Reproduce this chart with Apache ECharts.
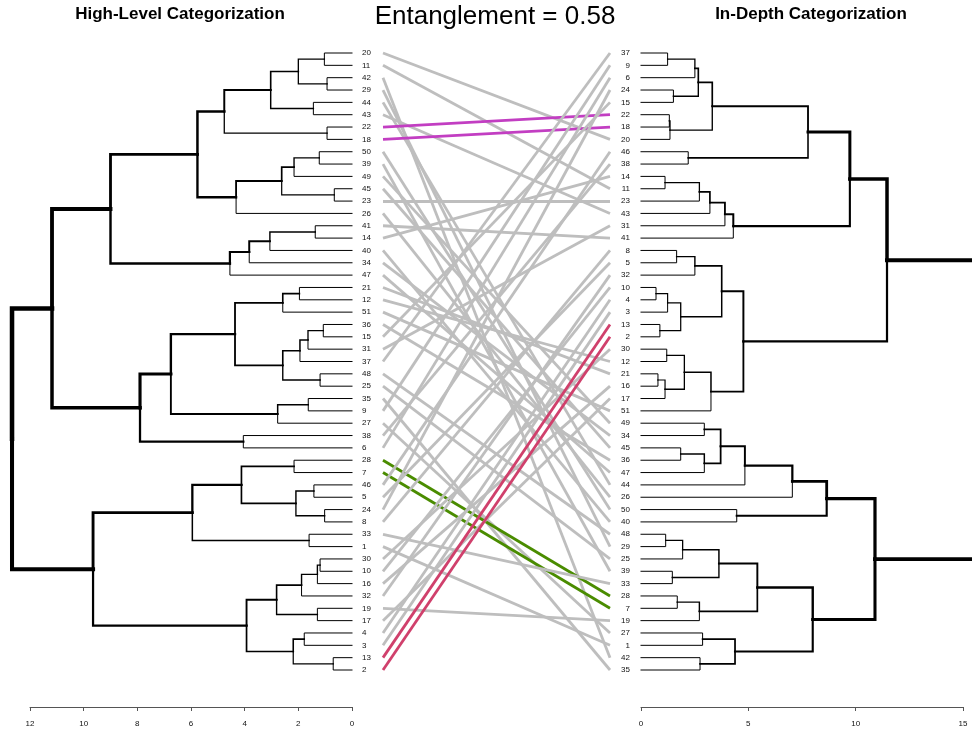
<!DOCTYPE html>
<html>
<head>
<meta charset="utf-8">
<title>Tanglegram</title>
<script src="https://cdn.jsdelivr.net/npm/echarts@6/dist/echarts.min.js"></script>
<style>
  html, body { margin: 0; padding: 0; background: #fff; }
  #chart { width: 972px; height: 731px; }
</style>
</head>
<body>
<div id="chart"></div>
<script>
// leaf order, top to bottom
const leftLabels = ['20', '11', '42', '29', '44', '43', '22', '18', '50', '39', '49', '45', '23', '26', '41', '14', '40', '34', '47',
  '21', '12', '51', '36', '15', '31', '37', '48', '25', '35', '9', '27', '38', '6', '28', '7', '46', '5', '24', '8', '33', '1',
  '30', '10', '16', '32', '19', '17', '4', '3', '13', '2']
const rightLabels = ['37', '9', '6', '24', '15', '22', '18', '20', '46', '38', '14', '11', '23', '43', '31', '41', '8', '5', '32',
  '10', '4', '3', '13', '2', '30', '12', '21', '16', '17', '51', '49', '34', '45', '36', '47', '44', '26', '50', '40', '48', '29',
  '25', '39', '33', '28', '7', '19', '27', '1', '42', '35']

// trees: [merge height, child, child], a leaf is its label
const leftTree = [12.67,
  [11.18,
    [9.0,
      [5.76,
        [4.76, [3.03, [2.0, [1.03, '20', '11'], [0.93, '42', '29']], [1.44, '44', '43']], [0.93, '22', '18']],
        [4.32, [2.62, [2.16, [1.22, '50', '39'], '49'], [0.66, '45', '23']], '26']],
      [4.55, [3.83, [3.06, [1.37, '41', '14'], '40'], '34'], '47']],
    [7.9,
      [6.75,
        [4.36, [2.58, [1.96, '21', '12'], '51'], [2.58, [1.94, [1.64, [1.07, '36', '15'], '31'], '37'], [1.19, '48', '25']]],
        [2.77, [1.63, '35', '9'], '27']],
      [4.05, '38', '6']]],
  [9.65,
    [5.95, [4.12, [2.16, '28', '7'], [2.09, [1.42, '46', '5'], [1.02, '24', '8']]], [1.6, '33', '1']],
    [3.93, [2.81, [1.88, [1.29, [1.19, '30', '10'], '16'], '32'], [1.29, '19', '17']], [2.19, [1.78, '4', '3'], [0.7, '13', '2']]]]]

const rightTree = [15.6,
  [11.46,
    [9.73,
      [7.78,
        [3.32, [2.67, [2.51, [1.24, '37', '9'], '6'], [1.51, '24', '15']], [1.35, [1.32, '22', '18'], '20']],
        [2.2, '46', '38']],
      [4.3, [3.91, [3.21, [2.72, [1.12, '14', '11'], '23'], '43'], '31'], '41']],
    [4.77,
      [3.76, [2.51, [1.66, '8', '5'], '32'], [1.85, [1.24, [0.7, '10', '4'], '3'], [0.88, '13', '2']]],
      [3.26, [2.02, [1.2, '30', '12'], [1.12, [0.79, '21', '16'], '17']], '51']]],
  [10.9,
    [8.65, [7.05, [4.84, [3.71, [2.95, '49', '34'], [2.95, [1.85, '45', '36'], '47']], '44'], '26'], [4.46, '50', '40']],
    [8.0,
      [5.42, [3.63, [1.94, [1.15, '48', '29'], '25'], [1.46, '39', '33']], [2.72, [1.69, '28', '7'], '19']],
      [4.38, [2.87, '27', '1'], [2.75, '42', '35']]]]]

// common subtrees get their own colour
const highlightColors = { '22': '#C23EC2', '18': '#C23EC2', '28': '#4A8C00', '7': '#4A8C00', '13': '#D0406C', '2': '#D0406C' }

const entanglement = 0.58

// 把树转换成折线段
function buildEdges (tree, labels) {
  const maxH = tree[0]
  const edges = []
  function walk (node) {
    if (!Array.isArray(node)) return { h: 0, y: labels.indexOf(node) }
    const a = walk(node[1])
    const b = walk(node[2])
    const y = (a.y + b.y) / 2
    ;[a, b].forEach(c => {
      edges.push({
        coords: [[node[0], y], [node[0], c.y], [c.h, c.y]],
        lineStyle: { width: 1 + 4 * c.h / maxH }
      })
    })
    return { h: node[0], y: y }
  }
  walk(tree)
  return edges
}

const connectors = leftLabels.map((lab, i) => ({
  coords: [[0, i], [1, rightLabels.indexOf(lab)]],
  lineStyle: { color: highlightColors[lab] || '#BEBEBE' }
}))

const font = 'Liberation Sans, Arial, sans-serif'
const gridTop = 53
const gridHeight = 617

const valueY = gridIndex => ({
  type: 'value', gridIndex: gridIndex, min: 0, max: leftLabels.length - 1, inverse: true, show: false
})
const labelY = (gridIndex, labels, position, margin) => ({
  type: 'category', gridIndex: gridIndex, data: labels, boundaryGap: false, inverse: true, position: position,
  axisLine: { show: false }, axisTick: { show: false }, splitLine: { show: false },
  axisLabel: { interval: 0, margin: margin, fontSize: 8, color: '#111', fontFamily: font }
})
const distX = (gridIndex, max, interval, inverse) => ({
  type: 'value', gridIndex: gridIndex, min: 0, max: max, interval: interval, inverse: inverse,
  position: 'bottom', offset: 37,
  axisLine: { show: true, onZero: false, lineStyle: { color: '#555', width: 1 } },
  axisTick: { show: true, length: 4, lineStyle: { color: '#555' } },
  splitLine: { show: false },
  axisLabel: { fontSize: 8, color: '#111', margin: 13, fontFamily: font }
})

const myChart = echarts.init(document.getElementById('chart'))
myChart.setOption({
  animation: false,
  backgroundColor: '#fff',
  graphic: [
    { type: 'text', x: 180, y: 14.5, style: { text: 'High-Level Categorization', font: 'bold 17px ' + font, fill: '#000', textAlign: 'center', textVerticalAlign: 'middle' } },
    { type: 'text', x: 811, y: 14.5, style: { text: 'In-Depth Categorization', font: 'bold 17px ' + font, fill: '#000', textAlign: 'center', textVerticalAlign: 'middle' } },
    { type: 'text', x: 495, y: 17, style: { text: 'Entanglement = ' + entanglement.toFixed(2), font: '26px ' + font, fill: '#000', textAlign: 'center', textVerticalAlign: 'middle' } }
  ],
  grid: [
    { left: 30, width: 322, top: gridTop, height: gridHeight },
    { left: 641, width: 322, top: gridTop, height: gridHeight },
    { left: 383, width: 227, top: gridTop, height: gridHeight }
  ],
  xAxis: [
    distX(0, 12, 2, true),
    distX(1, 15, 5, false),
    { type: 'value', gridIndex: 2, min: 0, max: 1, show: false }
  ],
  yAxis: [
    valueY(0),
    labelY(0, leftLabels, 'right', 10),
    valueY(1),
    labelY(1, rightLabels, 'left', 11),
    valueY(2)
  ],
  series: [
    {
      type: 'lines', coordinateSystem: 'cartesian2d', xAxisIndex: 2, yAxisIndex: 4,
      polyline: false, silent: true, clip: false,
      lineStyle: { width: 2.8, opacity: 1, cap: 'butt' },
      data: connectors
    },
    {
      type: 'lines', coordinateSystem: 'cartesian2d', xAxisIndex: 0, yAxisIndex: 0,
      polyline: true, silent: true, clip: false,
      lineStyle: { color: '#000', opacity: 1, cap: 'square', join: 'miter' },
      data: buildEdges(leftTree, leftLabels)
    },
    {
      type: 'lines', coordinateSystem: 'cartesian2d', xAxisIndex: 1, yAxisIndex: 2,
      polyline: true, silent: true, clip: false,
      lineStyle: { color: '#000', opacity: 1, cap: 'square', join: 'miter' },
      data: buildEdges(rightTree, rightLabels)
    }
  ]
})
</script>
</body>
</html>
